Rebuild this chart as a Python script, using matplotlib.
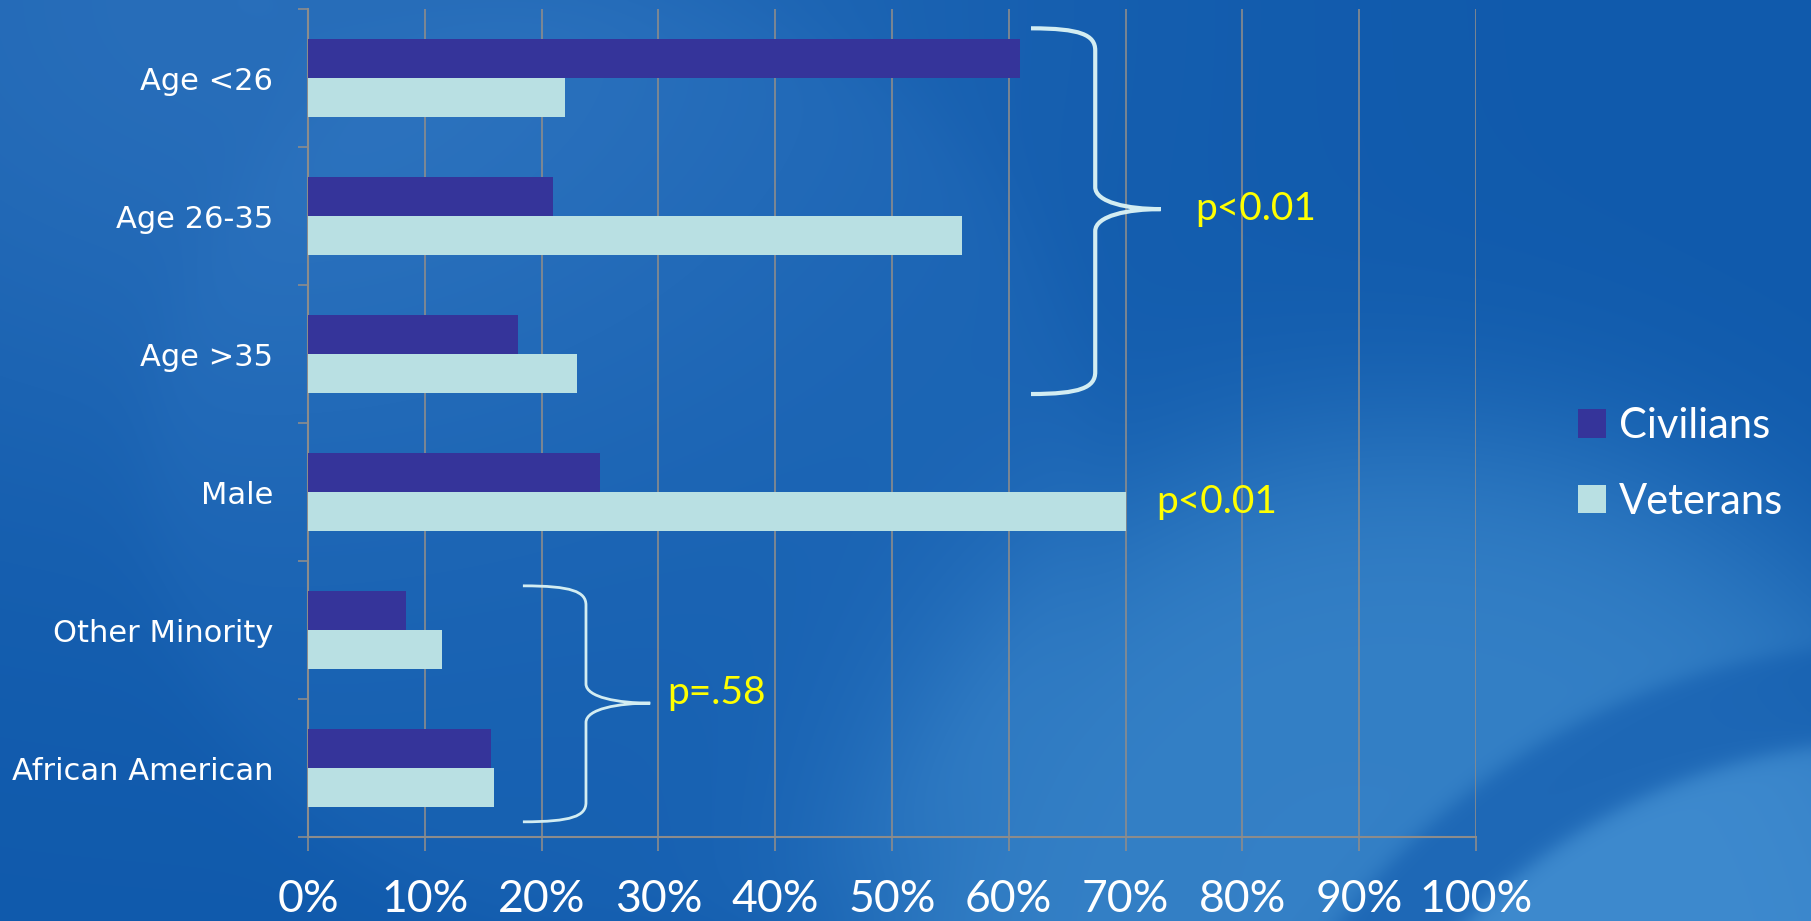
import numpy as np
import matplotlib
matplotlib.use("Agg")
import matplotlib.pyplot as plt
from matplotlib.path import Path
from matplotlib.patches import PathPatch

categories = ["Age <26", "Age 26-35", "Age >35", "Male", "Other Minority", "African American"]
civilians = [61.0, 21.0, 18.0, 25.0, 8.4, 15.7]
veterans = [22.0, 56.0, 23.0, 70.0, 11.5, 15.9]
xticks = list(range(0, 101, 10))
xtick_labels = [str(t) + "%" for t in xticks]

civ_color = "#35349a"
vet_color = "#b9e0e3"
grid_color = "#8c8c8c"
brace_color = "#d3edf2"
narrow = ["Lato", "DejaVu Sans"]

W, H = 1811, 921
fig = plt.figure(figsize=(W / 100, H / 100), dpi=100)

# blue slide background with soft lighter swirls
bg = fig.add_axes([0, 0, 1, 1], zorder=-10)
yy, xx = np.mgrid[0:H, 0:W]
base = np.array([16, 90, 172], dtype=float)
img = np.ones((H, W, 3)) * base
tl = np.exp(-(((xx - 250) / 700.0) ** 2 + ((yy - 0) / 500.0) ** 2))
img += tl[..., None] * np.array([24, 20, 14])
r1 = np.hypot(xx - 620, yy - 470)
circ = 1 / (1 + np.exp((r1 - 470) / 20.0))
img += circ[..., None] * np.array([6, 6, 5])
# lighter sweep in the lower right
r2 = np.hypot(xx - 1420, yy - 1000)
light = 1 / (1 + np.exp((r2 - 560) / 60.0))
img += light[..., None] * np.array([36, 38, 26])
r3 = np.hypot(xx - 1900, yy - 1350)
band = (1 / (1 + np.exp((r3 - 705) / 6.0))) * (1 / (1 + np.exp(-(r3 - 610) / 6.0)))
img -= (band * light)[..., None] * np.array([22, 24, 16])
corner = 1 / (1 + np.exp((r3 - 610) / 6.0))
img += corner[..., None] * np.array([10, 10, 8])
bg.imshow(np.clip(img, 0, 255).astype(np.uint8), aspect="auto", interpolation="bilinear")
bg.axis("off")

ax = fig.add_axes([308 / W, 1 - 837 / H, (1476 - 308) / W, (837 - 9) / H])
ax.patch.set_alpha(0)

y = np.arange(len(categories))
h = 0.285
ax.barh(y - h / 2, civilians, height=h, color=civ_color, label="Civilians", zorder=3)
ax.barh(y + h / 2, veterans, height=h, color=vet_color, label="Veterans", zorder=3)

ax.set_xlim(0, 100)
ax.set_ylim(len(categories) - 0.5, -0.5)
ax.set_xticks(xticks)
ax.set_xticklabels(xtick_labels, family=narrow, fontsize=32, color="white")
ax.set_yticks(y)
ax.set_yticklabels(categories, fontsize=22, color="white")
ax.set_yticks(np.arange(-0.5, len(categories), 1), minor=True)
ax.tick_params(axis="y", which="major", length=0, pad=25)
ax.tick_params(axis="y", which="minor", length=7, width=1.2, color=grid_color)
ax.tick_params(axis="x", length=10, width=1.2, color=grid_color, pad=20)
ax.grid(axis="x", color=grid_color, linewidth=1.2, zorder=1)
for s in ["top", "right"]:
    ax.spines[s].set_visible(False)
for s in ["left", "bottom"]:
    ax.spines[s].set_color(grid_color)
    ax.spines[s].set_linewidth(1.5)


def brace(x0, xm, xt, y0, y1, yt, ry, lw):
    verts = [(x0, y0), ((x0 + xm) / 2 + 1.5, y0), (xm, y0 + ry * 0.3), (xm, y0 + ry),
             (xm, yt - ry),
             (xm, yt - ry * 0.3), ((xm + xt) / 2, yt), (xt, yt),
             ((xm + xt) / 2, yt), (xm, yt + ry * 0.3), (xm, yt + ry),
             (xm, y1 - ry),
             (xm, y1 - ry * 0.3), ((x0 + xm) / 2 + 1.5, y1), (x0, y1)]
    codes = [Path.MOVETO] + [Path.CURVE4] * 3 + [Path.LINETO] + [Path.CURVE4] * 6 + \
            [Path.LINETO] + [Path.CURVE4] * 3
    ax.add_patch(PathPatch(Path(verts, codes), fill=False, edgecolor=brace_color,
                           linewidth=lw, zorder=4, clip_on=False))


brace(61.9, 67.4, 73.0, -0.36, 2.29, 0.95, 0.16, 3.0)
brace(18.4, 23.8, 29.3, 3.68, 5.39, 4.53, 0.14, 2.0)

ax.text(76.0, 0.95, "p<0.01", color="yellow", fontsize=28, family=narrow, va="center")
ax.text(72.6, 3.07, "p<0.01", color="yellow", fontsize=28, family=narrow, va="center")
ax.text(30.8, 4.46, "p=.58", color="yellow", fontsize=28, family=narrow, va="center")

leg = fig.legend(loc="upper left", bbox_to_anchor=(1578 / W, 1 - 407 / H), frameon=False,
                 borderpad=0, borderaxespad=0,
                 handlelength=0.68, handleheight=0.68, handletextpad=0.3, labelspacing=0.9,
                 prop={"family": narrow, "size": 30}, labelcolor="white")

fig.savefig("out.png", dpi=100)
